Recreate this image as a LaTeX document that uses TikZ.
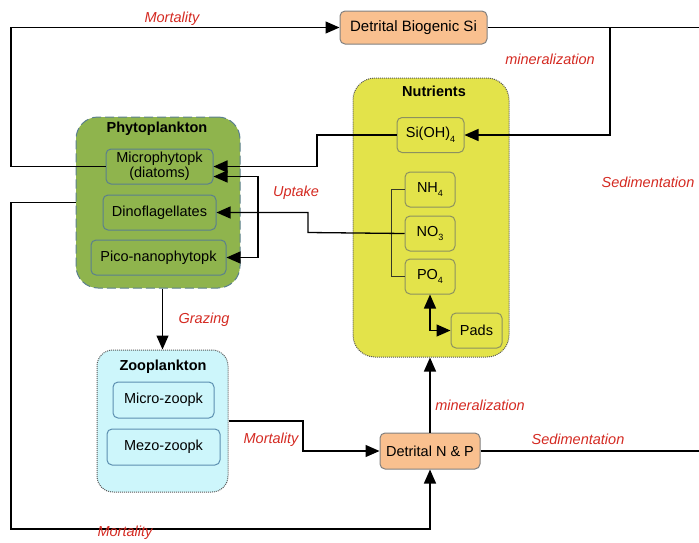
\documentclass[tikz,border=0pt]{standalone}
\usepackage{fontspec}
\setmainfont{Liberation Sans}
\usepackage{xcolor}
\usetikzlibrary{positioning,arrows.meta}

\definecolor{peach}{HTML}{F9C08F}
\definecolor{leaf}{HTML}{8FB44D}
\definecolor{leafline}{HTML}{5A7F8E}
\definecolor{lemon}{HTML}{E3E34A}
\definecolor{lemonline}{HTML}{8C9160}
\definecolor{sky}{HTML}{CDF6FB}
\definecolor{skyline}{HTML}{5C8FB0}
\definecolor{flux}{HTML}{D42A22}

\newcommand{\lowsub}[1]{\raisebox{-0.6ex}{\fontsize{9}{9}\selectfont #1}}

\begin{document}
\begin{tikzpicture}[
  x=1pt, y=-1pt,
  font=\fontsize{14.5}{15}\selectfont,
  box/.style={draw, rounded corners=5pt, align=center, minimum height=35pt, inner sep=1pt, line width=1pt},
  detritus/.style={box, draw=gray, fill=peach},
  group/.style={rounded corners=22pt, line width=1pt},
  title/.style={font=\fontsize{14.5}{15}\selectfont\bfseries},
  flow/.style={text=flux, font=\fontsize{14.5}{15}\selectfont\itshape},
  arrow/.style={-{Triangle[length=14pt,width=12pt]}, line width=1.3pt},
  biarrow/.style={{Triangle[length=14pt,width=12pt]}-{Triangle[length=14pt,width=12pt]}, line width=1.3pt}
]
\useasboundingbox (0,0) rectangle (699,542);

% compartments
\node[group, draw=leafline, dashed, dash pattern=on 9pt off 4pt, fill=leaf, minimum width=164pt, minimum height=171pt] (phyto) at (158,202.5) {};
\node[group, draw=gray!70!black, densely dotted, fill=lemon, minimum width=156pt, minimum height=279pt] (nutr) at (431,217.5) {};
\node[group, rounded corners=16pt, draw=gray!70!black, densely dotted, fill=sky, minimum width=131pt, minimum height=142pt] (zoo) at (162.5,421) {};

\node[title] (phytot) at (157,129) {Phytoplankton};
\node[title] (nutrt) at (434,91) {Nutrients};
\node[title] (zoot) at (163,367) {Zooplankton};

% phytoplankton
\node[box, draw=leafline, fill=leaf, minimum width=107pt] (micro) at (159.5,166.5) {Microphytopk\\(diatoms)};
\node[box, draw=leafline, fill=leaf, minimum width=113pt, below=10pt of micro] (dino) {Dinoflagellates};
\node[box, draw=leafline, fill=leaf, minimum width=135pt] (pico) at (158.5,257.5) {Pico-nanophytopk};

% nutrients
\node[box, draw=lemonline, fill=lemon, minimum width=67pt] (sioh) at (430.5,135) {Si(OH)\lowsub{4}};
\node[box, draw=lemonline, fill=lemon, minimum width=50pt] (nh4) at (430,189.5) {NH\lowsub{4}};
\node[box, draw=lemonline, fill=lemon, minimum width=50pt, below=8pt of nh4] (no3) {NO\lowsub{3}};
\node[box, draw=lemonline, fill=lemon, minimum width=50pt, below=7pt of no3] (po4) {PO\lowsub{4}};
\node[box, draw=lemonline, fill=lemon, minimum width=51pt] (pads) at (476.5,330.5) {Pads};

% zooplankton
\node[box, draw=skyline, fill=sky, minimum width=101pt, minimum height=36pt] (mzoo) at (163.5,400) {Micro-zoopk};
\node[box, draw=skyline, fill=sky, minimum width=113pt, minimum height=36pt, below=10pt of mzoo] (mezo) {Mezo-zoopk};

% detritus
\node[detritus, minimum width=147pt, minimum height=33pt, font=\fontsize{15}{15}\selectfont] (dsi) at (413.5,27.5) {Detrital Biogenic Si};
\node[detritus, minimum width=100pt, minimum height=36pt] (dnp) at (430,451) {Detrital N \& P};

\coordinate (sedsi) at (699,27.5);
\coordinate (sednp) at (699,451);

% fluxes
\draw[arrow] (micro.west) -- (11,166.5) |- (dsi.west);
\draw[line width=1.3pt] (dsi.east) -- (sedsi);
\draw[arrow] (610,27.5) |- (sioh.east);
\draw[arrow, line width=1.8pt] (sioh.west) -- (317,135) |- (micro.east);
\draw[biarrow] ([yshift=-10pt]micro.east) -- (258,176.5) |- (pico.east);
\draw[line width=1.1pt, lemonline!40!black] (nh4.west) -- ++(-13,0) |- (po4.west);
\draw[arrow] (no3.west) -- (308,232.5) |- (dino.east);
\draw[arrow] (zoo.north |- phyto.south) -- (zoo.north);
\draw[arrow] (phyto.west) -- (11,202.5) -- (11,529) -| (dnp.south);
\draw[arrow] (zoo.east) -- (303,421) |- (dnp.west);
\draw[arrow] (dnp.north) -- (nutr.south -| dnp.north);
\draw[biarrow] (po4.south) |- (pads.west);
\draw[line width=1.8pt] (dnp.east) -- (sednp);

% labels
\node[flow] (l1) at (172,19) {Mortality};
\node[flow] (l2) at (550,59) {mineralization};
\node[flow] (l3) at (648,182) {Sedimentation};
\node[flow] (l4) at (296,193) {Uptake};
\node[flow] (l5) at (204,320) {Grazing};
\node[flow] (l6) at (271,440) {Mortality};
\node[flow] (l7) at (480,405) {mineralization};
\node[flow] (l8) at (578,439) {Sedimentation};
\node[flow] (l9) at (125,533) {Mortality};
\end{tikzpicture}
\end{document}
